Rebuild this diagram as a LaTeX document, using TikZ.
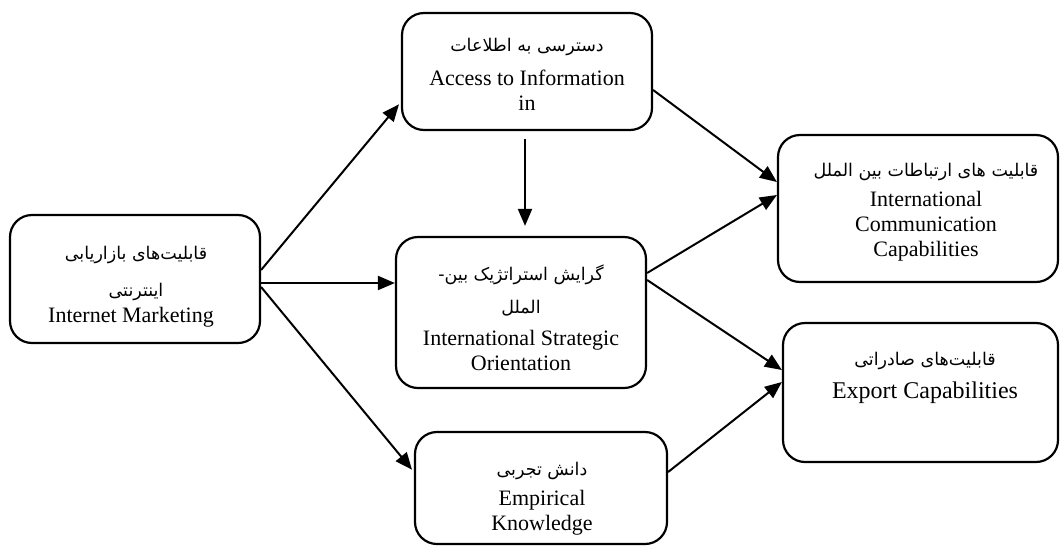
\documentclass[tikz,border=0pt]{standalone}
\usepackage{fontspec}
\setmainfont{Liberation Serif}
\newfontfamily\farsi[Script=Arabic]{DejaVu Sans}
\TeXXeTstate=1
\usetikzlibrary{arrows.meta}

\newcommand{\fa}[1]{{\farsi\beginR #1\endR}}

\begin{document}
\begin{tikzpicture}[x=1pt,y=-1pt,
  box/.style={draw=black, line width=2.2pt, rounded corners=22pt},
  fa/.style={font=\fontsize{17.5}{20}\selectfont, inner sep=0pt},
  en/.style={font=\fontsize{22}{25}\selectfont, align=center, inner sep=0pt},
  arr/.style={line width=2pt, -{Triangle[length=17pt,width=14pt]}}]
%\draw[help lines] (0,0) grid[step=50] (1060,547);
\useasboundingbox (0,0) rectangle (1060,547);

\node[box, minimum width=250pt, minimum height=128pt] (im)  at (135,279)   {};
\node[box, minimum width=250pt, minimum height=117pt] (acc) at (527,71.5)  {};
\node[box, minimum width=250pt, minimum height=151pt] (iso) at (521,312.5) {};
\node[box, minimum width=280pt, minimum height=147pt] (icc) at (918,208.5) {};
\node[box, minimum width=275pt, minimum height=139pt] (ec)  at (920.5,392.5) {};
\node[box, minimum width=252pt, minimum height=112pt] (ek)  at (541,488)   {};

\node[fa] (im-fa1) at (136,255) {\fa{قابلیت^^^^200cهای بازاریابی}};
\node[fa] (im-fa2) at (136,292) {\fa{اینترنتی}};
\node[en] (im-en)  at (131,317) {Internet Marketing};

\node[fa] (acc-fa) at (527,47) {\fa{دسترسی به اطلاعات}};
\node[en] (acc-en) at (527,90) {Access to Information\\in};

\node[fa] (iso-fa1) at (521,275) {\fa{گرایش استراتژیک بین-}};
\node[fa] (iso-fa2) at (521,308) {\fa{الملل}};
\node[en] (iso-en)  at (521,350) {International Strategic\\Orientation};

\node[fa] (icc-fa) at (926,172) {\fa{قابلیت های ارتباطات بین الملل}};
\node[en] (icc-en) at (926,226) {International\\Communication\\Capabilities};

\node[fa] (ec-fa) at (925,361) {\fa{قابلیت^^^^200cهای صادراتی}};
\node[en, font=\fontsize{24}{27}\selectfont] (ec-en) at (925,393) {Export Capabilities};

\node[fa] (ek-fa) at (542,471) {\fa{دانش تجربی}};
\node[en] (ek-en) at (542,513) {Empirical\\Knowledge};

\draw[arr, shorten >=3pt] ([yshift=9pt]im.east) -- ([yshift=-30.5pt]acc.west);
\draw[arr] ([yshift=-4pt]im.east) -- ([yshift=29.5pt]iso.west);
\draw[arr, shorten >=3pt] ([yshift=-8pt]im.east) -- ([yshift=16pt]ek.west);
\draw[arr, shorten <=8pt, shorten >=10pt] ([xshift=-2pt]acc.south) -- ([xshift=4pt]iso.north);
\draw[arr] ([yshift=-18.5pt]acc.east) -- ([yshift=26.5pt]icc.west);
\draw[arr] ([yshift=39.5pt]iso.east) -- ([yshift=13.5pt]icc.west);
\draw[arr] ([yshift=32.5pt]iso.east) -- ([yshift=22.5pt]ec.west);
\draw[arr] ([yshift=16pt]ek.east) -- ([yshift=10.5pt]ec.west);

\end{tikzpicture}
\end{document}
